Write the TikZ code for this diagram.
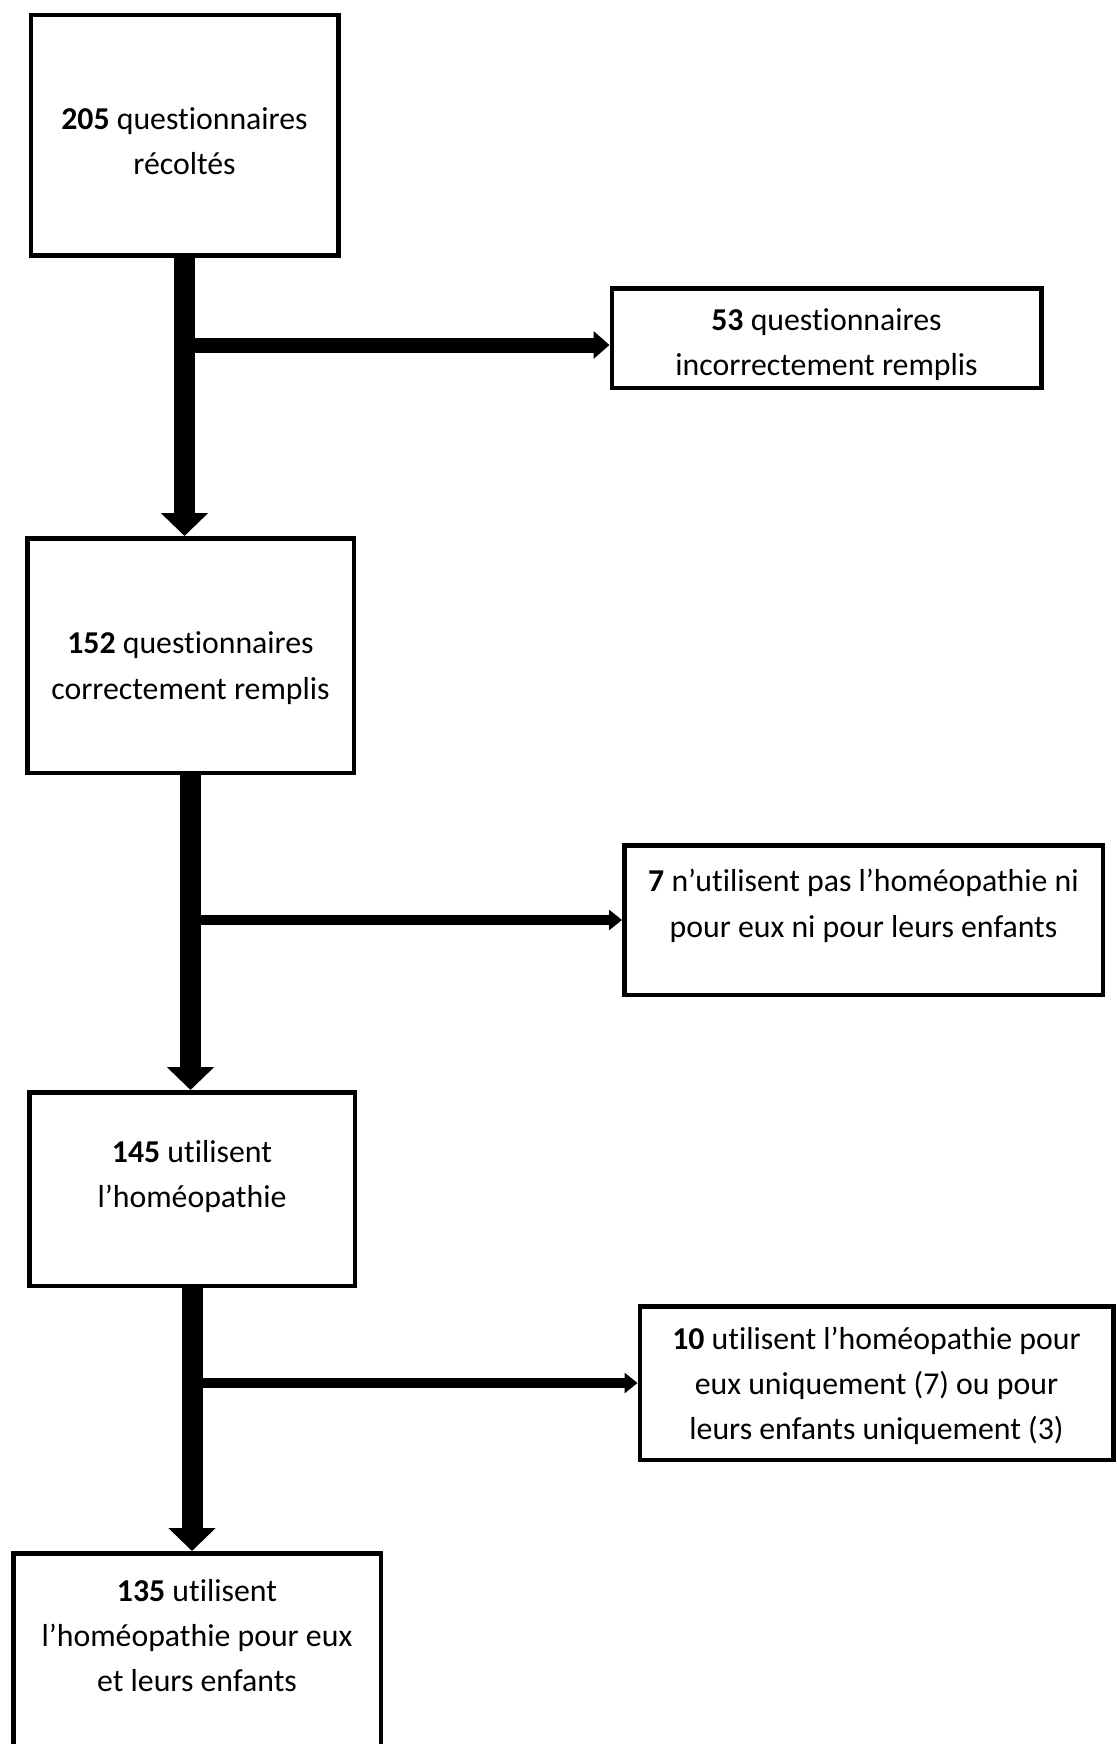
\documentclass[tikz,border=0pt]{standalone}
\usepackage{fontspec}
\setmainfont{Carlito}[Ligatures=NoCommon]
\usetikzlibrary{arrows.meta, positioning}

\begin{document}
\begin{tikzpicture}[
    node distance=139pt,
    box/.style={rectangle, draw=black, line width=2.25pt, align=center, text centered, font=\fontsize{15.9pt}{22.6pt}\selectfont, inner sep=4pt, text depth=0pt},
    shaft/.style={-{Triangle[length=11.5pt, width=23pt]}, line width=10.5pt, black},
    branch/.style={-{Triangle[length=8pt, width=13.5pt]}, line width=7.5pt, black},
    thinbranch/.style={-{Triangle[length=6.5pt, width=10pt]}, line width=5pt, black},
]

\path[use as bounding box, fill=white] (0,0) rectangle (558.5pt,-872pt);

\node[box, minimum width=153.75pt, minimum height=120.25pt, text height=39.5pt] (collected) at (92.25pt,-67.75pt) {\textbf{205} questionnaires\\récoltés};
\node[box, minimum width=214.75pt, minimum height=49.75pt, text height=37.2pt, below right=14pt and 134.5pt of collected] (incorrect) {\textbf{53} questionnaires\\incorrectement remplis};

\node[box, minimum width=163.25pt, minimum height=117.25pt, text height=43.5pt, below=139pt of collected, xshift=3pt] (correct) {\textbf{152} questionnaires\\correctement remplis};
\node[box, minimum width=239.25pt, minimum height=74.75pt, text height=17pt, below right=34pt and 133pt of correct] (nonusers) {\textbf{7} n’utilisent pas l’homéopathie ni\\pour eux ni pour leurs enfants};

\node[box, minimum width=162.75pt, minimum height=96.75pt, text height=18.4pt, below=157.5pt of correct, xshift=0.75pt] (users) {\textbf{145} utilisent\\l’homéopathie};
\node[box, minimum width=236.75pt, minimum height=76.75pt, text height=56.8pt, below right=8pt and 140.25pt of users] (partial) {\textbf{10} utilisent l’homéopathie pour\\eux uniquement (7) ou pour\\leurs enfants uniquement (3)};

\node[box, minimum width=183.75pt, text height=65.1pt, text depth=120pt, below=131.5pt of users, xshift=2.5pt] (both) {\textbf{135} utilisent\\l’homéopathie pour eux\\et leurs enfants};

% Main flow
\draw[shaft] (collected.south) -- (collected.south |- correct.north);
\draw[shaft] (correct.south) -- (correct.south |- users.north);
\draw[shaft] (users.south) -- (users.south |- both.north);

% Exclusions
\draw[branch] (collected.south |- incorrect.west) ++(0,-3.5pt) -- ([yshift=-3.5pt]incorrect.west);
\draw[thinbranch] (correct.south |- nonusers.west) -- (nonusers.west);
\draw[thinbranch] (users.south |- partial.west) -- (partial.west);

\end{tikzpicture}
\end{document}
